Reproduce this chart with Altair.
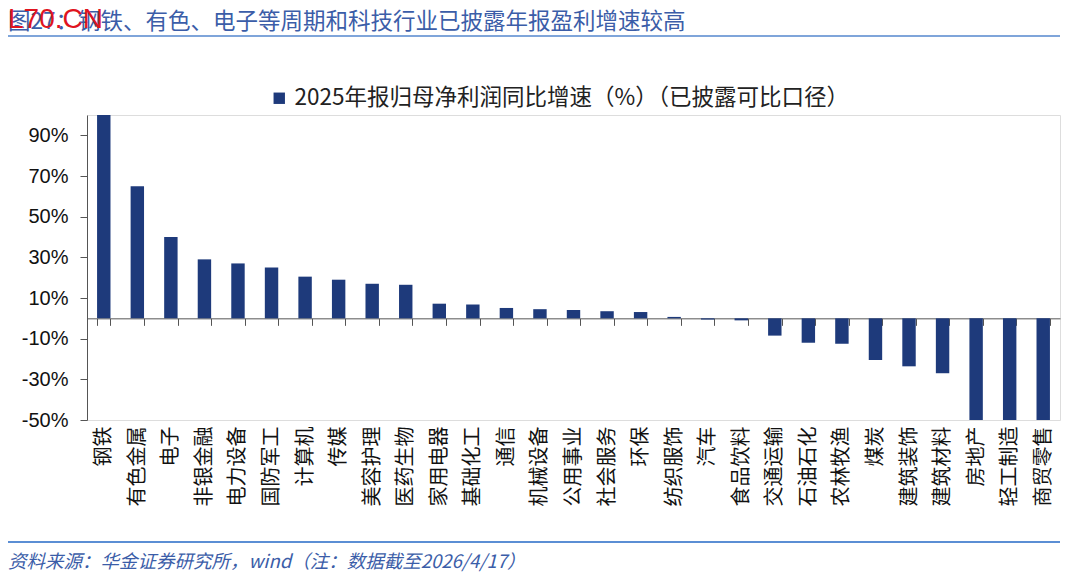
import altair as alt
import pandas as pd

categories = ["钢铁", "有色金属", "电子", "非银金融", "电力设备", "国防军工", "计算机", "传媒",
              "美容护理", "医药生物", "家用电器", "基础化工", "通信", "机械设备", "公用事业",
              "社会服务", "环保", "纺织服饰", "汽车", "食品饮料", "交通运输", "石油石化",
              "农林牧渔", "煤炭", "建筑装饰", "建筑材料", "房地产", "轻工制造", "商贸零售"]
values = [100, 65, 40, 29, 27, 25, 20.5, 19, 17, 16.5, 7.2, 6.8, 5.1, 4.5, 4.1,
          3.5, 3.1, 0.7, -0.6, -1.0, -8.5, -12, -12.5, -20.5, -23.6, -27, -50, -50, -50]
series_name = "2025年报归母净利润同比增速（%）（已披露可比口径）"
y_ticks = [-50, -30, -10, 10, 30, 50, 70, 90]
y_domain = [-50, 100]

title_text = "图27：钢铁、有色、电子等周期和科技行业已披露年报盈利增速较高"
watermark = "L70.CN"
source_text = "资料来源：华金证券研究所，wind（注：数据截至2026/4/17）"

W, H = 973, 305
zero_from_bottom = H * (0 - y_domain[0]) / (y_domain[1] - y_domain[0])

FONT = "Liberation Sans, Arial, Noto Sans CJK SC"
CJK = "Noto Sans CJK SC, Liberation Sans"

df = pd.DataFrame({"cat": categories, "val": values, "series": series_name})

bars = alt.Chart(df).mark_bar(clip=True).encode(
    x=alt.X("cat:N", sort=categories,
            scale=alt.Scale(paddingInner=0.6, paddingOuter=0.3),
            axis=alt.Axis(title=None, orient="bottom", offset=-zero_from_bottom,
                          labelAngle=270, labelPadding=zero_from_bottom - 1,
                          labelFontSize=20, labelFont=CJK, labelColor="#111111",
                          labelOverlap=False, labelLimit=200,
                          tickBand="extent", tickSize=7, tickColor="#555555",
                          domainColor="#555555", domainWidth=1)),
    y=alt.Y("val:Q", scale=alt.Scale(domain=y_domain, nice=False),
            axis=alt.Axis(title=None, values=y_ticks, labelExpr="datum.value + '%'",
                          grid=False, tickSize=7, tickColor="#555555",
                          domainColor="#555555", labelPadding=12,
                          labelFontSize=20, labelFont=FONT, labelColor="#111111")),
    color=alt.Color("series:N", scale=alt.Scale(range=["#1E3A7B"]),
                    legend=alt.Legend(title=None, orient="none", legendX=181, legendY=-28,
                                      symbolType="square", symbolSize=130,
                                      symbolStrokeWidth=0, labelFontSize=22.5,
                                      labelFont=CJK, labelColor="#222222",
                                      labelLimit=800, symbolOffset=0)),
)

text_df = pd.DataFrame({"t": [title_text]})
title_mark = alt.Chart(text_df).mark_text(
    align="left", baseline="middle", fontSize=22.5, font=CJK, color="#3B5DA8"
).encode(text="t:N", x=alt.value(-79), y=alt.value(-93))

wm_df = pd.DataFrame({"t": [watermark]})
wm_mark = alt.Chart(wm_df).mark_text(
    align="left", baseline="middle", fontSize=28, font=FONT, color="#E0141E"
).encode(text="t:N", x=alt.value(-79), y=alt.value(-95))

src_df = pd.DataFrame({"t": [source_text]})
src_mark = alt.Chart(src_df).mark_text(
    align="left", baseline="middle", fontSize=18.5, font=CJK, color="#3B5DA8", fontStyle="italic"
).encode(text="t:N", x=alt.value(-79), y=alt.value(447))

line_df = pd.DataFrame({"k": [0]})
top_line = alt.Chart(line_df).mark_rule(color="#7FA5DA", strokeWidth=2).encode(
    x=alt.value(-79), x2=alt.value(W), y=alt.value(-79))
bottom_line = alt.Chart(line_df).mark_rule(color="#5B8ED4", strokeWidth=2).encode(
    x=alt.value(-79), x2=alt.value(W), y=alt.value(427))

chart = alt.layer(bars, top_line, bottom_line, title_mark, wm_mark, src_mark).properties(
    width=W, height=H,
    autosize=alt.AutoSizeParams(type="none"),
    padding={"left": 79, "top": 107, "right": 12, "bottom": 152},
).configure_view(stroke=None).configure(background="white")

chart.save("out.html", embed_options={"renderer": "svg", "actions": False})
